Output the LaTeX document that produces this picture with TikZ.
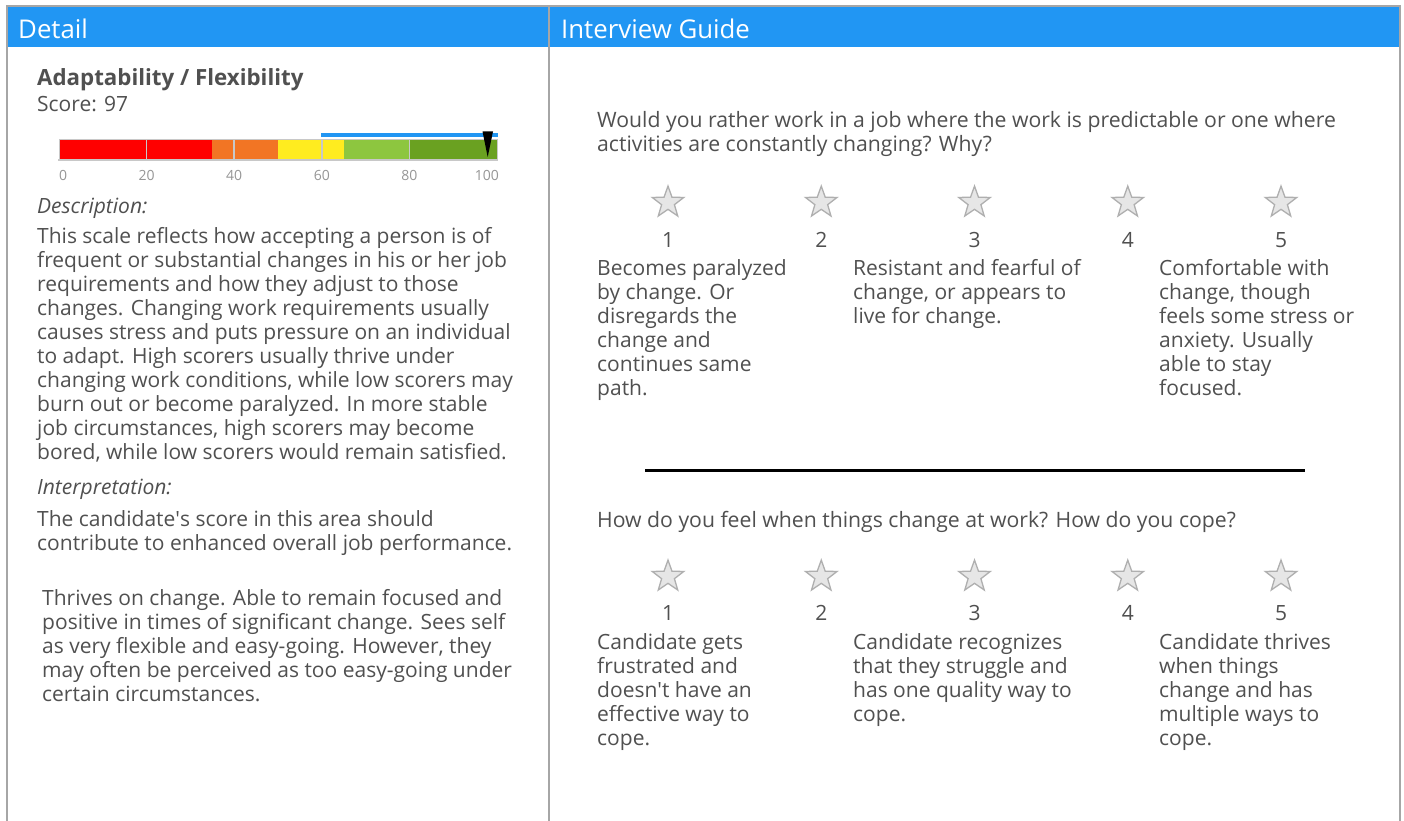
\documentclass[tikz,border=0pt]{standalone}
\usepackage{fontspec}
\setmainfont{Open Sans}
\usetikzlibrary{shapes.geometric}
\definecolor{hdr}{RGB}{33,150,243}
\definecolor{txt}{RGB}{80,80,80}
\definecolor{framec}{RGB}{166,166,166}
\definecolor{cred}{RGB}{255,0,0}
\definecolor{corange}{RGB}{242,117,36}
\definecolor{cyellow}{RGB}{255,236,31}
\definecolor{clgreen}{RGB}{141,198,63}
\definecolor{cdgreen}{RGB}{106,161,33}
\definecolor{tickc}{RGB}{200,200,200}
\definecolor{ticklbl}{RGB}{150,150,150}
\definecolor{starfill}{RGB}{230,230,230}
\definecolor{stardraw}{RGB}{175,175,175}
\newcommand\ptext[1]{\parbox[t]{820pt}{\raggedright #1}}
\begin{document}
\begin{tikzpicture}[x=1pt,y=-1pt,
  body/.style={anchor=base west, inner sep=0, text=txt, font=\fontsize{21}{24}\selectfont},
  bodyr/.style={anchor=base west, inner sep=0, text=txt, font=\fontsize{21.2}{24}\selectfont},
  bodyit/.style={body, font=\fontsize{21}{24}\selectfont\itshape},
  hdrtext/.style={anchor=base west, inner sep=0, text=white, font=\fontsize{25.8}{30}\selectfont},
  ticklabel/.style={anchor=base, inner sep=0, text=ticklbl, font=\fontsize{14}{16}\selectfont},
  starsty/.style={star, star points=5, star point ratio=2.45, minimum size=33pt, inner sep=0,
    draw=stardraw, fill=starfill, line width=1.3pt},
  numsty/.style={anchor=base, inner sep=0, text=txt, font=\fontsize{21}{24}\selectfont}]
\useasboundingbox (0,0) rectangle (1404,821);
\fill[white] (0,0) rectangle (1404,821);
% header band
\fill[hdr] (7,7) rectangle (1399,47);
% frame lines
\draw[framec, line width=2pt] (7,821) -- (7,6.5) -- (1399.5,6.5) -- (1399.5,821);
\draw[framec, line width=2pt] (549,6.5) -- (549,821);
% header texts
\node[hdrtext] (hdetail) at (18,38.5) {Detail};
\node[hdrtext] (hguide) at (561,38.5) {Interview Guide};

% ---- left panel ----
\node[body, font=\fontsize{22.3}{26}\selectfont\bfseries] (title) at (37,85.5) {Adaptability / Flexibility};
\node[body] (score) at (37,111.5) {Score: 97};

% score bar
\fill[cred] (59,140) rectangle (212.3,160);
\fill[corange] (212.3,140) rectangle (278,160);
\fill[cyellow] (278,140) rectangle (343.7,160);
\fill[clgreen] (343.7,140) rectangle (409.4,160);
\fill[cdgreen] (409.4,140) rectangle (497,160);
\foreach \t in {146.6,234.2,321.8,409.4}{\draw[tickc, line width=1.5pt] (\t,140) -- (\t,160);}
\draw[tickc, line width=1pt] (59,140) rectangle (497,160);
\draw[tickc, line width=2pt] (58,160.5) -- (498,160.5);
\fill[hdr] (321,133) rectangle (498,137);
\fill[black] (482.5,131.5) -- (493,131.5) -- (487.7,157) -- cycle;
\node[ticklabel, anchor=base west] (t0) at (59,180.5) {0};
\node[ticklabel] (t20) at (146.6,180.5) {20};
\node[ticklabel] (t40) at (234.2,180.5) {40};
\node[ticklabel] (t60) at (321.8,180.5) {60};
\node[ticklabel] (t80) at (409.4,180.5) {80};
\node[ticklabel, anchor=base east] (t100) at (499,180.5) {100};

\node[bodyit] (desclbl) at (37,213) {Description:};
\node[body] (desc) at (37,243) {\ptext{This scale reflects how accepting a person is of\\
frequent or substantial changes in his or her job\\
requirements and how they adjust to those\\
changes. Changing work requirements usually\\
causes stress and puts pressure on an individual\\
to adapt. High scorers usually thrive under\\
changing work conditions, while low scorers may\\
burn out or become paralyzed. In more stable\\
job circumstances, high scorers may become\\
bored, while low scorers would remain satisfied.}};
\node[bodyit] (interlbl) at (37,494) {Interpretation:};
\node[body] (inter) at (37,526) {\ptext{The candidate\textquotesingle s score in this area should\\
contribute to enhanced overall job performance.}};
\node[body] (thrive) at (42,605) {\ptext{Thrives on change. Able to remain focused and\\
positive in times of significant change. Sees self\\
as very flexible and easy-going. However, they\\
may often be perceived as too easy-going under\\
certain circumstances.}};

% ---- right panel ----
\node[bodyr] (q1) at (597,128) {\ptext{Would you rather work in a job where the work is predictable or one where\\
activities are constantly changing? Why?}};
\foreach \i/\x in {1/668,2/821.25,3/974.5,4/1127.75,5/1281}{
  \node[starsty] (sa\i) at (\x,202.6) {};
  \node[numsty] (na\i) at (\x,247.5) {\i};
}
\node[body] (a11) at (597,275) {\ptext{Becomes paralyzed\\by change. Or\\disregards the\\change and\\continues same\\path.}};
\node[body] (a13) at (853,275) {\ptext{Resistant and fearful of\\change, or appears to\\live for change.}};
\node[body] (a15) at (1159,275) {\ptext{Comfortable with\\change, though\\feels some stress or\\anxiety. Usually\\able to stay\\focused.}};

\draw[black, line width=3pt] (645,470) -- (1305,470);

\node[bodyr] (q2) at (597,527.5) {How do you feel when things change at work? How do you cope?};
\foreach \i/\x in {1/668,2/821.25,3/974.5,4/1127.75,5/1281}{
  \node[starsty] (sb\i) at (\x,576.6) {};
  \node[numsty] (nb\i) at (\x,620.5) {\i};
}
\node[body] (a21) at (597,649) {\ptext{Candidate gets\\frustrated and\\doesn\textquotesingle t have an\\effective way to\\cope.}};
\node[body] (a23) at (853,649) {\ptext{Candidate recognizes\\that they struggle and\\has one quality way to\\cope.}};
\node[body] (a25) at (1159,649) {\ptext{Candidate thrives\\when things\\change and has\\multiple ways to\\cope.}};
\end{tikzpicture}
\end{document}
